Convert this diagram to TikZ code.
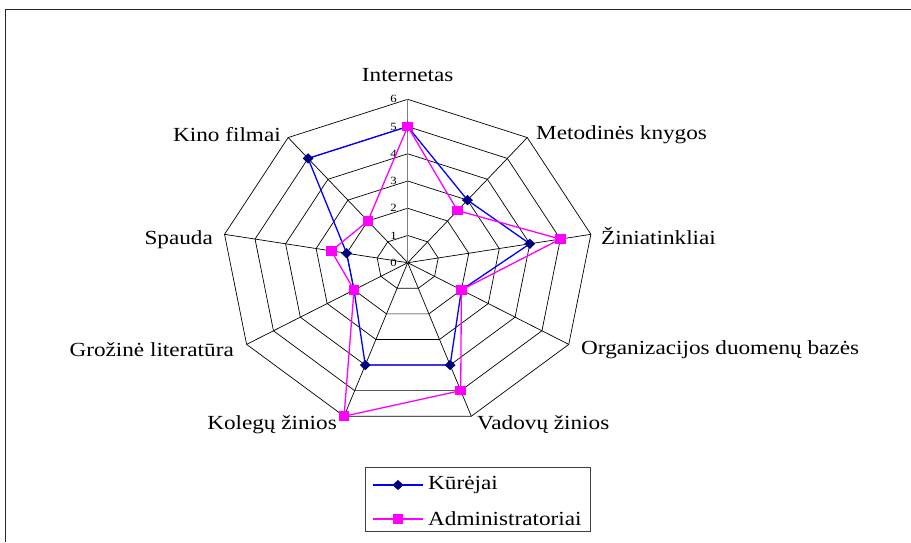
\documentclass[tikz,border=0pt]{standalone}
\usepackage{fontspec}
\setmainfont{Liberation Serif}[FakeStretch=1.16]
\usetikzlibrary{shapes.geometric}
\definecolor{navymark}{RGB}{0,0,128}
\definecolor{axisgray}{RGB}{128,128,128}
\definecolor{serblue}{RGB}{0,0,255}
\definecolor{sermagenta}{RGB}{255,0,255}
\begin{document}
\begin{tikzpicture}[x=1pt,y=-1pt,
  frameline/.style={black!85, line width=1.4pt},
  gridline/.style={black, line width=0.7pt},
  valaxis/.style={axisgray, line width=1.3pt},
  axlabel/.style={font=\fontsize{20}{22}\selectfont, inner sep=0pt},
  ticklabel/.style={font=\fontsize{11}{12}\selectfont, inner sep=0pt, anchor=east},
  kline/.style={serblue, line width=1.3pt},
  aline/.style={sermagenta, line width=1.3pt},
  kmark/.style={diamond, fill=navymark, inner sep=0pt, minimum width=11pt, minimum height=10.5pt},
  amark/.style={rectangle, fill=sermagenta, inner sep=0pt, minimum width=10.5pt, minimum height=9.5pt},
  legbox/.style={draw=black!75, line width=0.8pt},
]
\useasboundingbox (0,0) rectangle (911,542);

% outer frame (top and left edges)
\draw[frameline] (911,9.5) -- (5.5,9.5) -- (5.5,542);

% centre of the radar chart; one unit = 31 px across, 27.23 px down
\coordinate (O) at (407.7,262.7);
\foreach \r in {1,...,6}
  \foreach \k in {0,...,8}
    \coordinate (g\r-\k) at ({407.7+\r*31*sin(40*\k)}, {262.7-\r*27.23*cos(40*\k)});

% rings
\foreach \r in {1,...,6}
  \draw[gridline] (g\r-0) -- (g\r-1) -- (g\r-2) -- (g\r-3) -- (g\r-4)
                  -- (g\r-5) -- (g\r-6) -- (g\r-7) -- (g\r-8) -- cycle;
% spokes
\foreach \k in {1,...,8}
  \draw[gridline] (O) -- (g6-\k);
\draw[valaxis] (O) -- (g6-0);

% scale labels
\foreach \r in {0,...,6}
  \node[ticklabel] (t\r) at (397, {262.7-\r*27.23}) {\r};

% category labels
\node[axlabel, anchor=center] (c0) at (407.7,75) {Internetas};
\node[axlabel, anchor=west] (c1) at (536,135) {Metodinės knygos};
\node[axlabel, anchor=west] (c2) at (601,236) {Žiniatinkliai};
\node[axlabel, anchor=west] (c3) at (581,350) {Organizacijos duomenų bazės};
\node[axlabel, anchor=west] (c4) at (477,425) {Vadovų žinios};
\node[axlabel, anchor=east] (c5) at (337,425) {Kolegų žinios};
\node[axlabel, anchor=east] (c6) at (234,350) {Grožinė literatūra};
\node[axlabel, anchor=east] (c7) at (213,240) {Spauda};
\node[axlabel, anchor=east] (c8) at (281,135) {Kino filmai};

% series: Kūrėjai
\foreach \v [count=\k from 0] in {5,3,4,2,4,4,2,2,5}
  \coordinate (k\k) at ({407.7+\v*31*sin(40*\k)}, {262.7-\v*27.23*cos(40*\k)});
\draw[kline] (k0) -- (k1) -- (k2) -- (k3) -- (k4) -- (k5) -- (k6) -- (k7) -- (k8) -- cycle;
\foreach \k in {0,...,8}
  \node[kmark] (km\k) at (k\k) {};

% series: Administratoriai
\foreach \v [count=\k from 0] in {5,2.5,5,2,5,6,2,2.5,2}
  \coordinate (a\k) at ({407.7+\v*31*sin(40*\k)}, {262.7-\v*27.23*cos(40*\k)});
\draw[aline] (a0) -- (a1) -- (a2) -- (a3) -- (a4) -- (a5) -- (a6) -- (a7) -- (a8) -- cycle;
\foreach \k in {0,...,8}
  \node[amark] (am\k) at (a\k) {};

% legend
\draw[legbox] (365,467.5) rectangle (590,531.5);
\coordinate (lk1) at (373,485);
\coordinate (lk2) at (423,485);
\draw[kline] (lk1) -- (lk2);
\node[kmark] (lkm) at (398,485) {};
\node[axlabel, anchor=west] (lkt) at (428,485) {Kūrėjai};
\coordinate (la1) at (373,519);
\coordinate (la2) at (423,519);
\draw[aline] (la1) -- (la2);
\node[amark] (lam) at (398,519) {};
\node[axlabel, anchor=west] (lat) at (428,519) {Administratoriai};
\end{tikzpicture}
\end{document}
